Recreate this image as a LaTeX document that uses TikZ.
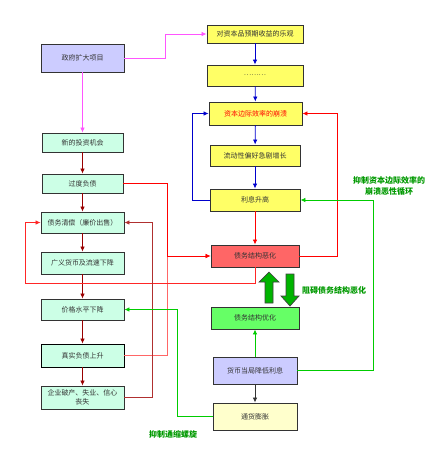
\documentclass[tikz,border=0pt]{standalone}
\usepackage{fontspec}
\setmainfont{Noto Sans CJK SC}
\usepackage{tikz}
\usetikzlibrary{arrows.meta,shadows}

\definecolor{lav}{HTML}{CCCCFF}
\definecolor{mint}{HTML}{CCFFE6}
\definecolor{lemon}{HTML}{FFFF66}
\definecolor{salmon}{HTML}{FF6666}
\definecolor{lime}{HTML}{66FF66}
\definecolor{cream}{HTML}{FFFFCC}
\definecolor{pinky}{HTML}{FF55FF}
\definecolor{darkred}{HTML}{990000}
\definecolor{brick}{HTML}{B03030}
\definecolor{deepblue}{HTML}{0000CC}
\definecolor{leaf}{HTML}{00CC00}
\definecolor{notegreen}{HTML}{009900}
\definecolor{bigarrow}{HTML}{00B400}

\begin{document}
\begin{tikzpicture}[x=1pt, y=-1pt, >={Latex[length=5pt,width=4.5pt]}]
\tikzstyle{every node} = [inner sep=0pt, font=\fontsize{7}{8.5}\selectfont, text=black!80]
\tikzstyle{box} = [draw=black!80, line width=0.9pt, drop shadow={shadow xshift=0.8pt, shadow yshift=-0.8pt, fill=black!35}]
\tikzstyle{note} = [font=\fontsize{8}{11}\selectfont\bfseries, text=notegreen, align=center]
\useasboundingbox (0,0) rectangle (445,469);

% left column
\node[box, fill=lav, minimum width=83, minimum height=28](A) at (82.5,58) {政府扩大项目};
\node[box, fill=mint, minimum width=81, minimum height=19](B) at (82.5,142.5) {新的投资机会};
\node[box, fill=mint, minimum width=81, minimum height=19](C) at (82.5,183.5) {过度负债};
\node[box, fill=mint, minimum width=83, minimum height=21](D) at (82.5,222.5) {债务清偿（廉价出售）};
\node[box, fill=mint, minimum width=83, minimum height=22](E) at (82.5,263) {广义货币及流速下降};
\node[box, fill=mint, minimum width=83, minimum height=21](F) at (82.5,309.5) {价格水平下降};
\node[box, fill=mint, minimum width=83, minimum height=23, draw=black](G) at (82.5,355.5) {真实负债上升};
\node[box, fill=mint, minimum width=83, minimum height=23, align=center](H) at (82.5,397.5) {企业破产、失业、信心\\丧失};

% right column
\node[box, fill=lemon, minimum width=96, minimum height=18](I) at (255,34) {对资本品预期收益的乐观};
\node[box, fill=lemon, minimum width=96, minimum height=21](J) at (255,75.5) {………};
\node[box, fill=lemon, minimum width=93, minimum height=23, text=red](K) at (255.5,113.5) {资本边际效率的崩溃};
\node[box, fill=lemon, minimum width=90, minimum height=21](L) at (255,155.5) {流动性偏好急剧增长};
\node[box, fill=lemon, minimum width=90, minimum height=22](M) at (255,200) {利息升高};
\node[box, fill=salmon, minimum width=88, minimum height=22](N) at (255,256) {债务结构恶化};
\node[box, fill=lime, minimum width=88, minimum height=22](O) at (255,318) {债务结构优化};
\node[box, fill=lav, minimum width=84, minimum height=27](P) at (255,370.5) {货币当局降低利息};
\node[box, fill=cream, minimum width=84, minimum height=27](Q) at (255,416.5) {通货膨胀};

% notes
\node[note](R) at (334,290) {阻碍债务结构恶化};
\node[note](S) at (389,186.5) {抑制资本边际效率的\\崩溃恶性循环};
\node[note](T) at (173,434) {抑制通缩螺旋};

% big arrows
\draw [fill=bigarrow, draw=black!75, line width=0.7pt] (269,272) -- (279,282) -- (273,282) -- (273,303) -- (265,303) -- (265,282) -- (259,282) -- cycle;
\draw [fill=bigarrow, draw=black!75, line width=0.7pt] (290,306) -- (299,296) -- (294,296) -- (294,274) -- (286,274) -- (286,296) -- (281,296) -- cycle;

\draw [->][pinky, thick] (A.east) -- ++(41,0) |- (I.west);
\draw [->][pinky, thick] (A) -- (B);
\foreach \from/\to in {B/C, C/D, D/E, E/F, F/G, G/H}
\draw [->][darkred, thick] (\from) -- (\to);
\foreach \from/\to in {I/J, J/K, K/L, L/M}
\draw [->][deepblue, thick] (\from) -- (\to);
\draw [->][deepblue, thick] (M.west) -- ++(-17,0) |- (K.west);

\draw [->][red!60, thick] (G.east) -- ++(43,0) |- (N.west);
\draw [->][red, thick] (C.east) -- ++(44,0) |- (N.west);
\draw [->][red, thick] (M) -- (N);
\draw [->][red, thick] (N.east) -- ++(38,0) |- (K.east);
\draw [->][red!85, thick] (N.south) -- ++(0,16) -- ++(-230,0) |- (D.west);
\draw [->][brick, thick] (H.east) -- ++(28,0) |- (D.east);

\draw [->][leaf, thick] (P.east) -- ++(76,0) |- (M.east);
\draw [->][leaf, thick] (P) -- (O);
\draw [->][leaf, thick] (Q.west) -- ++(-35,0) |- (F.east);
\draw [->][black!80, thick] (P) -- (Q);

\end{tikzpicture}
\end{document}
